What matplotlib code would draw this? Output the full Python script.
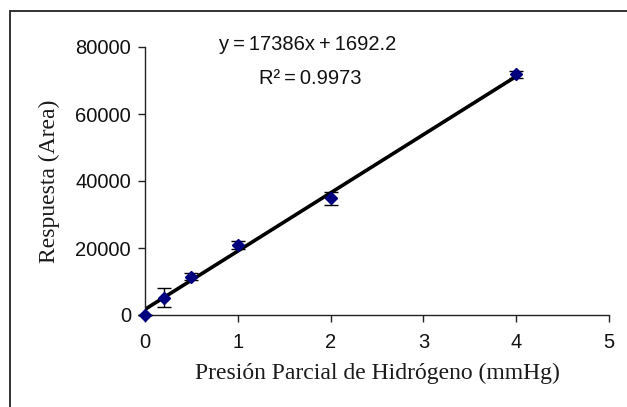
import matplotlib
matplotlib.use("Agg")
import matplotlib.pyplot as plt
from matplotlib.patches import Rectangle
import numpy as np

# Data
pressure = [0, 0.2, 0.5, 1, 2, 4]
response = [0, 5200, 11400, 20800, 34800, 71800]
errors = [0, 2900, 1000, 1200, 1900, 1100]
slope = 17386
intercept = 1692.2
eq_text = "y\u2009=\u200917386x\u2009+\u20091692.2"
r2_text = "R²\u2009=\u20090.9973"
xticks = [0, 1, 2, 3, 4, 5]
yticks = [0, 20000, 40000, 60000, 80000]

W, H = 627, 407
fig = plt.figure(figsize=(W / 100, H / 100), dpi=100)
ax = fig.add_axes([145 / W, 1 - 315 / H, (609 - 145) / W, (315 - 47) / H])

# outer frame (extends past right/bottom edges)
fig.patches.append(Rectangle((10 / W, -0.1), 1.2, 1 - 11 / H + 0.1,
                             transform=fig.transFigure, fill=False,
                             edgecolor="#222222", linewidth=1.3))

xs = np.array([pressure[0], pressure[-1]])
ax.plot(xs, slope * xs + intercept, color="black", linewidth=2.6, zorder=2)
ax.errorbar(pressure, response, yerr=errors, fmt="D", color="#00007f",
            markersize=6.5, ecolor="black", elinewidth=1.0, capsize=5,
            capthick=1.0, zorder=3, clip_on=False)

ax.set_xlim(0, 5)
ax.set_ylim(0, 80000)
ax.set_xticks(xticks)
ax.set_yticks(yticks)
for s in ["top", "right"]:
    ax.spines[s].set_visible(False)
for s in ["left", "bottom"]:
    ax.spines[s].set_linewidth(1.0)
    ax.spines[s].set_color("#222222")
ax.tick_params(direction="out", length=5, width=1.0, color="#222222",
               labelsize=14.5, pad=5)
for lab in ax.get_xticklabels() + ax.get_yticklabels():
    lab.set_fontfamily("Liberation Sans")
    lab.set_color("#111111")
ax.tick_params(axis="x", pad=8)

ax.set_xlabel("Presión Parcial de Hidrógeno (mmHg)", fontfamily="Liberation Serif",
              fontsize=17, color="#1a1a1a", labelpad=8)
ax.set_ylabel("Respuesta (Area)", fontfamily="Liberation Serif",
              fontsize=17, color="#1a1a1a", labelpad=11)

fig.text(308 / W, 1 - 45 / H, eq_text, fontfamily="Liberation Sans", fontsize=14.5,
         ha="center", va="center", color="#111111")
fig.text(310 / W, 1 - 78 / H, r2_text, fontfamily="Liberation Sans", fontsize=14.5,
         ha="center", va="center", color="#111111")

fig.savefig("out.png", dpi=100)
